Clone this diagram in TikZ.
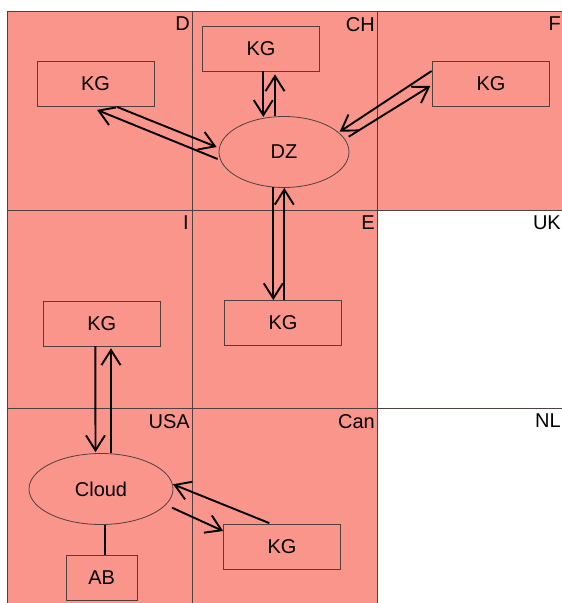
\documentclass[tikz,border=0pt]{standalone}
\usepackage{fontspec}
\setmainfont{Liberation Sans}
\usetikzlibrary{arrows.meta,shapes.geometric,calc}
\definecolor{cellfill}{RGB}{250,149,139}
\definecolor{gridline}{RGB}{80,64,64}

\begin{document}
\begin{tikzpicture}[x=1pt,y=-1pt,
  lbl/.style={font=\fontsize{20}{24}\selectfont},
  gridrule/.style={draw=gridline,line width=0.8pt},
  kg/.style={lbl,draw=gridline,line width=0.8pt,minimum width=117pt,minimum height=45pt,inner sep=0pt},
  oval/.style={lbl,ellipse,draw=gridline,line width=0.8pt,inner sep=0pt},
  tag/.style={lbl,anchor=north east,inner sep=0pt},
  link/.style={line width=1.9pt,black},
  arr/.style={link,line join=miter,-{Straight Barb[length=15pt,width=19pt]}}
]
\useasboundingbox (0,0) rectangle (562,603);

% shaded regions
\fill[cellfill] (7,11) rectangle (562,210);
\fill[cellfill] (7,210) rectangle (377,603);

% grid
\draw[gridrule] (7,11) -- (562,11);
\draw[gridrule] (7,11) -- (7,603);
\draw[gridrule] (192,11) -- (192,603);
\draw[gridrule] (377,11) -- (377,603);
\draw[gridrule] (7,210) -- (562,210);
\draw[gridrule] (7,408) -- (562,408);

% cell names
\node[tag] (tD)   at (190,17)  {D};
\node[tag] (tCH)  at (375,17)  {CH};
\node[tag] (tF)   at (561,17)  {F};
\node[tag] (tI)   at (189,216) {I};
\node[tag] (tE)   at (375,216) {E};
\node[tag] (tUK)  at (561,216) {UK};
\node[tag] (tUSA) at (190,414) {USA};
\node[tag] (tCan) at (375,414) {Can};
\node[tag] (tNL)  at (561,414) {NL};

% nodes
\node[kg] (kgd)   at (95.5,84)    {KG};
\node[kg] (kgch)  at (261,48.5)   {KG};
\node[kg] (kgf)   at (491,84)     {KG};
\node[oval,minimum width=130pt,minimum height=71pt] (dz) at (284,152) {DZ};
\node[kg] (kgi)   at (101.8,323.4) {KG};
\node[kg] (kge)   at (283,323)    {KG};
\node[oval,minimum width=144pt,minimum height=71pt] (cloud) at (101,489) {Cloud};
\node[kg,minimum width=71pt] (ab) at (101.7,578) {AB};
\node[kg] (kgcan) at (282,547)    {KG};

% CH <-> DZ
\draw[arr] ($(kgch.south)+(2.3,0)$) -- ($(dz.north)+(-20.7,0.8)$);
\draw[arr] ($(dz.north)+(-9,0.2)$) -- ($(kgch.south)+(14,3)$);

% D <-> DZ
\draw[arr] ($(kgd.south)+(21.5,0)$) -- ($(dz.west)+(-2,-5)$);
\draw[arr] ($(dz.west)+(-1,7)$) -- ($(kgd.south)+(1.5,3)$);

% F <-> DZ
\draw[arr] ($(kgf.west)+(-0.5,-13)$) -- ($(dz.east)+(-9.7,-20.3)$);
\draw[arr] ($(dz.east)+(-0.7,-15.3)$) -- ($(kgf.west)+(-1.8,2)$);

% DZ <-> E
\draw[arr] ($(dz.south)+(-10.7,-0.5)$) -- ($(kge.north)+(-9.7,0)$);
\draw[arr] ($(kge.north)+(1.3,0)$) -- ($(dz.south)+(0.3,0)$);

% I <-> Cloud
\draw[arr] ($(kgi.south)+(-6.5,0)$) -- ($(cloud.north)+(-5.5,-1)$);
\draw[arr] ($(cloud.north)+(10,0)$) -- ($(kgi.south)+(9.2,2)$);

% Cloud <-> Can
\draw[arr] ($(kgcan.north)+(-12.7,-1)$) -- ($(cloud.east)+(-0.3,-4.7)$);
\draw[arr] ($(cloud.east)+(-1.3,18.7)$) -- ($(kgcan.west)+(0,-16)$);

% Cloud -- AB
\draw[link] ($(cloud.south)+(4,0)$) -- ($(ab.north)+(3.3,0)$);
\end{tikzpicture}
\end{document}
